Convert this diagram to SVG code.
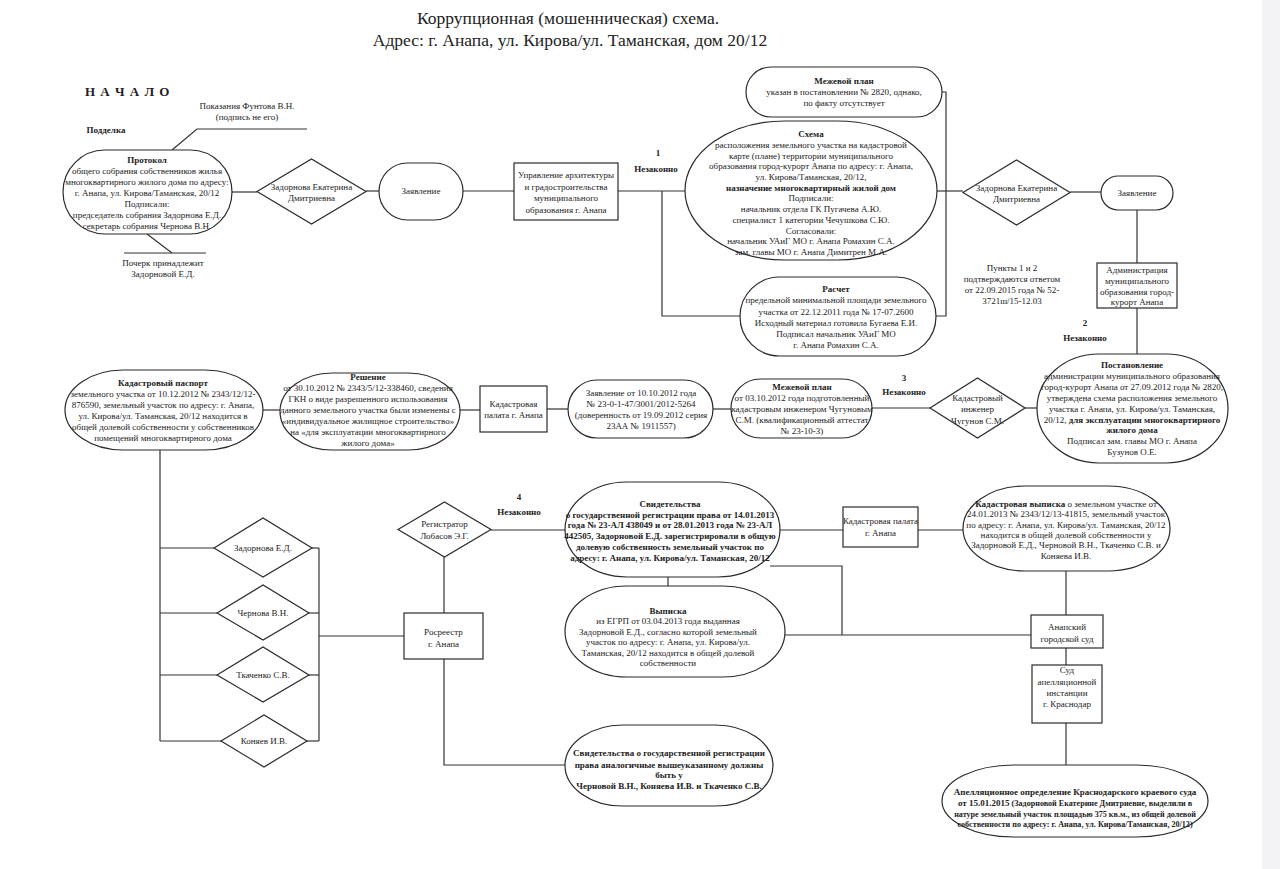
<svg xmlns="http://www.w3.org/2000/svg" width="1280" height="869" viewBox="0 0 1280 869">
<style>
.s{fill:#fff;stroke:#2a2a2a;stroke-width:1.2}
.c{fill:none;stroke:#333;stroke-width:1.2}
text{font-family:"Liberation Serif","Times New Roman",serif;font-size:9px;fill:#222;text-anchor:middle}
.b{font-weight:bold}
.t{font-size:17.5px}
.sm{font-size:8.1px}
</style>
<rect x="0" y="0" width="1280" height="869" fill="#fff"/>
<rect x="1262" y="0" width="18" height="869" fill="#f3f3f6"/>

<g id="title">
<text class="t" x="568" y="24">Коррупционная (мошенническая) схема.</text>
<text class="t" x="570" y="46">Адрес: г. Анапа, ул. Кирова/ул. Таманская, дом 20/12</text>
</g>

<g id="labels">
<text class="b" x="85" y="96" style="font-size:13px;text-anchor:start;letter-spacing:1px">Н А Ч А Л О</text>
<text class="b" x="106" y="133">Подделка</text>
<text x="247" y="109">Показания Фунтова В.Н.</text>
<text x="247" y="120">(подпись не его)</text>
<text x="163" y="266">Почерк принадлежит</text>
<text x="163" y="277">Задорновой Е.Д.</text>
<text class="b" x="658" y="156">1</text>
<text class="b" x="656" y="172">Незаконно</text>
<text class="b" x="1085" y="326">2</text>
<text class="b" x="1085" y="341">Незаконно</text>
<text class="b" x="904" y="381">3</text>
<text class="b" x="904" y="395">Незаконно</text>
<text class="b" x="519" y="500">4</text>
<text class="b" x="519" y="515">Незаконно</text>
<text x="1012" y="271">Пункты 1 и 2</text>
<text x="1012" y="282">подтверждаются ответом</text>
<text x="1012" y="293">от 22.09.2015 года № 52-</text>
<text x="1012" y="304">3721ш/15-12.03</text>
</g>

<g id="connectors">
<polyline class="c" points="172,150 197,129 307,129"/>
<line class="c" x1="147" y1="234" x2="172" y2="253"/>
<line class="c" x1="124" y1="253" x2="206" y2="253"/>
<line class="c" x1="232" y1="192" x2="257" y2="192"/>
<line class="c" x1="366" y1="191" x2="379" y2="191"/>
<line class="c" x1="463" y1="191" x2="514" y2="191"/>
<line class="c" x1="618" y1="191" x2="686" y2="191"/>
<polyline class="c" points="662,191 662,316 741,316"/>
<polyline class="c" points="942,92 946,92 946,316 936,316"/>
<line class="c" x1="936" y1="191" x2="963" y2="191"/>
<line class="c" x1="1070" y1="192" x2="1101" y2="192"/>
<line class="c" x1="1137" y1="210" x2="1137" y2="263"/>
<line class="c" x1="1137" y1="308" x2="1137" y2="354"/>
<line class="c" x1="1025" y1="408" x2="1038" y2="408"/>
<line class="c" x1="263" y1="410" x2="280" y2="410"/>
<line class="c" x1="460" y1="410" x2="480" y2="410"/>
<line class="c" x1="547" y1="409" x2="568" y2="409"/>
<line class="c" x1="713" y1="409" x2="731" y2="409"/>
<line class="c" x1="872" y1="408" x2="930" y2="408"/>
<line class="c" x1="160" y1="450" x2="160" y2="741"/>
<line class="c" x1="160" y1="548" x2="214" y2="548"/>
<line class="c" x1="160" y1="613" x2="217" y2="613"/>
<line class="c" x1="160" y1="675" x2="217" y2="675"/>
<line class="c" x1="160" y1="741" x2="221" y2="741"/>
<line class="c" x1="312" y1="548" x2="319" y2="548"/>
<line class="c" x1="309" y1="613" x2="319" y2="613"/>
<line class="c" x1="309" y1="675" x2="319" y2="675"/>
<line class="c" x1="307" y1="741" x2="319" y2="741"/>
<line class="c" x1="319" y1="548" x2="319" y2="741"/>
<line class="c" x1="319" y1="636" x2="404" y2="636"/>
<line class="c" x1="444" y1="557" x2="444" y2="613"/>
<polyline class="c" points="444,659 444,765 566,765"/>
<line class="c" x1="491" y1="530" x2="565" y2="530"/>
<line class="c" x1="780" y1="530" x2="843" y2="530"/>
<line class="c" x1="918" y1="530" x2="963" y2="530"/>
<polyline class="c" points="770,566 842,566 842,635"/>
<line class="c" x1="784" y1="635" x2="1031" y2="635"/>
<line class="c" x1="668" y1="577" x2="668" y2="586"/>
<line class="c" x1="1066" y1="571" x2="1066" y2="615"/>
<line class="c" x1="1066" y1="648" x2="1066" y2="665"/>
<line class="c" x1="1066" y1="723" x2="1066" y2="765"/>
</g>

<g id="protokol">
<rect class="s" x="63" y="150" width="169" height="84" rx="42" ry="42"/>
<text class="b" x="147" y="163">Протокол</text>
<text x="147" y="174">общего собрания собственников жилья</text>
<text x="147" y="185">многоквартирного жилого дома по адресу:</text>
<text x="147" y="196">г. Анапа, ул. Кирова/Таманская, 20/12</text>
<text x="147" y="207">Подписали:</text>
<text x="147" y="218">председатель собрания Задорнова Е.Д.</text>
<text x="147" y="229">секретарь собрания Чернова В.Н.</text>
</g>

<g id="zadornova1">
<polygon class="s" points="257,191.5 311.5,159 366,191.5 311.5,224"/>
<text x="311.5" y="190">Задорнова Екатерина</text>
<text x="311.5" y="201">Дмитриевна</text>
</g>

<g id="zayavlenie1">
<rect class="s" x="379" y="163" width="84" height="57" rx="28.5" ry="28.5"/>
<text x="421" y="194">Заявление</text>
</g>

<g id="upravlenie">
<rect class="s" x="514" y="163" width="104" height="57"/>
<text x="566" y="178">Управление архитектуры</text>
<text x="566" y="190">и градостроительства</text>
<text x="566" y="201">муниципального</text>
<text x="566" y="213">образования г. Анапа</text>
</g>

<g id="mezhevoy1">
<rect class="s" x="746" y="67" width="196" height="50" rx="25" ry="25"/>
<text class="b" x="844" y="84">Межевой план</text>
<text x="844" y="95">указан в постановлении № 2820, однако,</text>
<text x="844" y="106">по факту отсутствует</text>
</g>

<g id="schema">
<rect class="s" x="685" y="121" width="252" height="139" rx="100" ry="69.5"/>
<text class="b" x="811" y="137">Схема</text>
<text x="811" y="147.7">расположения земельного участка на кадастровой</text>
<text x="811" y="158.5">карте (плане) территории муниципального</text>
<text x="811" y="169.2">образования город-курорт Анапа по адресу: г. Анапа,</text>
<text x="811" y="179.9">ул. Кирова/Таманская, 20/12,</text>
<text class="b" x="811" y="190.6">назначение многоквартирный жилой дом</text>
<text x="811" y="201.4">Подписали:</text>
<text x="811" y="212.1">начальник отдела ГК  Пугачева А.Ю.</text>
<text x="811" y="222.8">специалист 1 категории Чечушкова С.Ю.</text>
<text x="811" y="233.5">Согласовали:</text>
<text x="811" y="244.3">начальник УАиГ МО г. Анапа Ромахин С.А.</text>
<text x="811" y="255">зам. главы МО г. Анапа Димитрен М.А.</text>
</g>

<g id="raschet">
<rect class="s" x="740" y="277" width="196" height="79" rx="39.5" ry="39.5"/>
<text class="b" x="836" y="292">Расчет</text>
<text x="836" y="303">предельной минимальной площади земельного</text>
<text x="836" y="314.5">участка от 22.12.2011 года № 17-07.2600</text>
<text x="836" y="325.5">Исходный материал готовила Бугаева Е.И.</text>
<text x="836" y="337">Подписал начальник УАиГ МО</text>
<text x="836" y="348">г. Анапа  Ромахин С.А.</text>
</g>

<g id="zadornova2">
<polygon class="s" points="963,192.5 1016.5,160 1070,192.5 1016.5,225"/>
<text x="1016.5" y="191">Задорнова Екатерина</text>
<text x="1016.5" y="202">Дмитриевна</text>
</g>

<g id="zayavlenie2">
<rect class="s" x="1101" y="176" width="72" height="34" rx="17" ry="17"/>
<text x="1137" y="196">Заявление</text>
</g>

<g id="administraciya">
<rect class="s" x="1097" y="263" width="80" height="45"/>
<text x="1137" y="273">Администрация</text>
<text x="1137" y="283.5">муниципального</text>
<text x="1137" y="294.5">образования город-</text>
<text x="1137" y="305">курорт Анапа</text>
</g>

<g id="postanovlenie">
<rect class="s" x="1037" y="354" width="191" height="109" rx="62" ry="54.5"/>
<text class="b" x="1132" y="368">Постановление</text>
<text x="1132" y="379">администрации муниципального образования</text>
<text x="1132" y="389.8">город-курорт Анапа от 27.09.2012 года № 2820,</text>
<text x="1132" y="400.7">утверждена схема расположения земельного</text>
<text x="1132" y="411.6">участка  г. Анапа, ул. Кирова/ул. Таманская,</text>
<text x="1132" y="422.5">20/12, <tspan class="b">для эксплуатации многоквартирного</tspan></text>
<text class="b" x="1132" y="433.4">жилого дома</text>
<text x="1132" y="444.3">Подписал зам. главы МО г. Анапа</text>
<text x="1132" y="455.2">Бузунов О.Е.</text>
</g>

<g id="inzhener">
<polygon class="s" points="930,408 977.5,378 1025,408 977.5,438"/>
<text x="977.5" y="401">Кадастровый</text>
<text x="977.5" y="412">инженер</text>
<text x="977.5" y="424">Чугунов С.М.</text>
</g>

<g id="pasport">
<rect class="s" x="65" y="370" width="198" height="80" rx="58" ry="40"/>
<text class="b" x="163" y="386">Кадастровый паспорт</text>
<text x="163" y="397">земельного участка от 10.12.2012 № 2343/12/12-</text>
<text x="163" y="408">876590, земельный участок по адресу: г. Анапа,</text>
<text x="163" y="419">ул. Кирова/ул. Таманская, 20/12 находится в</text>
<text x="163" y="430">общей долевой собственности у собственников</text>
<text x="163" y="441">помещений многоквартирного дома</text>
</g>

<g id="reshenie">
<rect class="s" x="280" y="373" width="180" height="77" rx="52" ry="38.5"/>
<text class="b" x="368" y="380">Решение</text>
<text x="368" y="391">от 30.10.2012 № 2343/5/12-338460, сведения</text>
<text x="368" y="402">ГКН о виде разрешенного использования</text>
<text x="368" y="413">данного земельного участка были изменены с</text>
<text x="368" y="424">«индивидуальное жилищное строительство»</text>
<text x="368" y="435">на «для эксплуатации многоквартирного</text>
<text x="368" y="446">жилого дома»</text>
</g>

<g id="kadpalata1">
<rect class="s" x="480" y="386" width="67" height="46"/>
<text x="513.5" y="407">Кадастровая</text>
<text x="513.5" y="418">палата г. Анапа</text>
</g>

<g id="zayavlenie3">
<rect class="s" x="568" y="380" width="145" height="58" rx="29" ry="29"/>
<text x="641" y="396">Заявление от 10.10.2012 года</text>
<text x="641" y="407">№ 23-0-1-47/3001/2012-5264</text>
<text x="641" y="418">(доверенность от 19.09.2012 серия</text>
<text x="641" y="428.5">23АА № 1911557)</text>
</g>

<g id="mezhevoy2">
<rect class="s" x="731" y="379" width="141" height="59" rx="29.5" ry="29.5"/>
<text class="b" x="802" y="390">Межевой план</text>
<text x="802" y="401">от 03.10.2012 года подготовленный</text>
<text x="802" y="412">кадастровым инженером Чугуновым</text>
<text x="802" y="423">С.М. (квалификационный аттестат</text>
<text x="802" y="434">№ 23-10-3)</text>
</g>

<g id="d_zadornova">
<polygon class="s" points="214,548 263,518 312,548 263,577"/>
<text x="263" y="551">Задорнова Е.Д.</text>
</g>
<g id="d_chernova">
<polygon class="s" points="217,613 263,585 309,613 263,640"/>
<text x="263" y="616">Чернова В.Н.</text>
</g>
<g id="d_tkachenko">
<polygon class="s" points="217,675 263,647 309,675 263,702"/>
<text x="263" y="678">Ткаченко С.В.</text>
</g>
<g id="d_konyaev">
<polygon class="s" points="221,741 264,715 307,741 264,767"/>
<text x="264" y="744">Коняев И.В.</text>
</g>

<g id="rosreestr">
<rect class="s" x="404" y="613" width="79" height="46"/>
<text x="443.5" y="635">Росреестр</text>
<text x="443.5" y="647">г. Анапа</text>
</g>

<g id="registrator">
<polygon class="s" points="398,529.5 444.5,502 491,529.5 444.5,557"/>
<text x="444.5" y="527">Регистратор</text>
<text x="444.5" y="539">Лобасов Э.Г.</text>
</g>

<g id="svidetelstva">
<rect class="s" x="565" y="482" width="215" height="95" rx="62" ry="47.5"/>
<text class="b" x="670" y="507">Свидетельства</text>
<text class="b" x="670" y="517.5">о государственной регистрации права от 14.01.2013</text>
<text class="b" x="670" y="528.3">года № 23-АЛ 438049 и от 28.01.2013 года № 23-АЛ</text>
<text class="b" x="670" y="539">442505, Задорновой Е.Д. зарегистрировали в общую</text>
<text class="b" x="670" y="549.8">долевую собственность земельный участок по</text>
<text class="b" x="670" y="560.5">адресу: г. Анапа, ул. Кирова/ул. Таманская, 20/12</text>
</g>

<g id="kadpalata2">
<rect class="s" x="843" y="507" width="75" height="40"/>
<text x="880.5" y="524">Кадастровая палата</text>
<text x="880.5" y="536">г. Анапа</text>
</g>

<g id="kadvypiska">
<rect class="s" x="963" y="486" width="207" height="85" rx="62" ry="42.5"/>
<text x="1066" y="507"><tspan class="b">Кадастровая выписка</tspan> о земельном участке от</text>
<text x="1066" y="517.3">24.01.2013 № 2343/12/13-41815, земельный участок</text>
<text x="1066" y="527.6">по адресу: г. Анапа, ул. Кирова/ул. Таманская, 20/12</text>
<text x="1066" y="537.9">находится в общей долевой собственности у</text>
<text x="1066" y="548.2">Задорновой Е.Д., Черновой В.Н., Ткаченко С.В. и</text>
<text x="1066" y="558.5">Коняева И.В.</text>
</g>

<g id="vypiska">
<rect class="s" x="565" y="586" width="220" height="91" rx="62" ry="45.5"/>
<text class="b" x="668" y="614">Выписка</text>
<text x="668" y="624.4">из ЕГРП от 03.04.2013 года выданная</text>
<text x="668" y="634.8">Задорновой Е.Д., согласно которой земельный</text>
<text x="668" y="645.2">участок по адресу: г. Анапа, ул. Кирова/ул.</text>
<text x="668" y="655.6">Таманская, 20/12 находится в общей долевой</text>
<text x="668" y="666">собственности</text>
</g>

<g id="anapa_sud">
<rect class="s" x="1031" y="615" width="72" height="33"/>
<text x="1067" y="630">Анапский</text>
<text x="1067" y="642">городской суд</text>
</g>

<g id="apell_sud">
<rect class="s" x="1032" y="665" width="70" height="58"/>
<text x="1067" y="673">Суд</text>
<text x="1067" y="685">апелляционной</text>
<text x="1067" y="696">инстанции</text>
<text x="1067" y="707">г. Краснодар</text>
</g>

<g id="apell_opr">
<rect class="s" x="942" y="765" width="266" height="72" rx="72" ry="36"/>
<text class="b" x="1075" y="795">Апелляционное определение Краснодарского краевого суда</text>
<text class="b" x="1075" y="806"><tspan>от 15.01.2015</tspan><tspan class="sm"> (Задорновой Екатерине Дмитриевне, выделили в</tspan></text>
<text class="b sm" x="1075" y="816.5">натуре земельный участок площадью 375 кв.м., из общей долевой</text>
<text class="b sm" x="1075" y="827">собственности по адресу: г. Анапа, ул. Кирова/Таманская, 20/12)</text>
</g>

<g id="svidetelstva2">
<rect class="s" x="565" y="725" width="208" height="81" rx="58" ry="40.5"/>
<text class="b" x="669" y="756">Свидетельства о государственной регистрации</text>
<text class="b" x="669" y="767.5">права аналогичные вышеуказанному должны</text>
<text class="b" x="669" y="778">быть у</text>
<text class="b" x="669" y="789">Черновой В.Н., Коняева И.В. и Ткаченко С.В.</text>
</g>
</svg>
